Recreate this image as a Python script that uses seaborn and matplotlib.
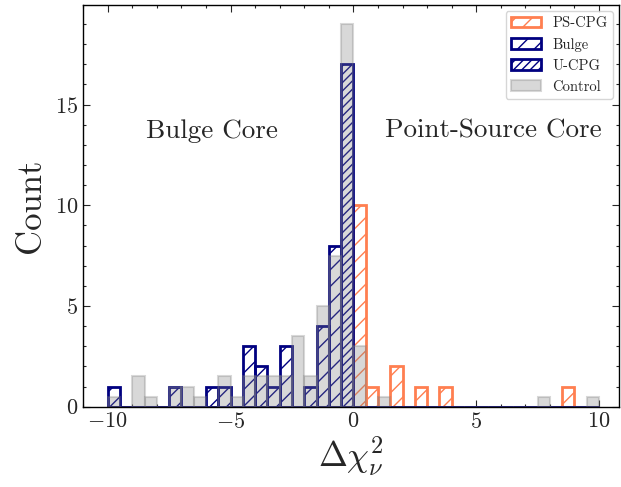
import numpy as np
import pandas as pd
import matplotlib
matplotlib.use("Agg")
import matplotlib.pyplot as plt
import seaborn as sns

# bin edges (width 0.5) and per-bin counts
bin_edges = list(np.arange(-10, 10.01, 0.5))

ps_x = [0.25, 0.75, 1.75, 2.75, 3.75, 8.75]
ps_n = [10, 1, 2, 1, 1, 1]

bulge_x = [-9.75, -7.25, -5.75, -5.25, -4.25, -3.75, -3.25, -2.75, -1.75, -1.25, -0.75]
bulge_n = [1, 1, 1, 1, 3, 2, 1, 3, 1, 4, 8]

ucpg_x = [-0.25]
ucpg_n = [17]

control_x = [-9.75, -8.75, -8.25, -7.25, -6.75, -6.25, -5.25, -4.75, -4.25, -3.75, -3.25,
             -2.75, -2.25, -1.75, -1.25, -0.75, -0.25, 0.25, 1.25, 7.75, 9.75]
control_n = [0.5, 1.5, 0.5, 1.0, 1.0, 0.5, 1.5, 0.5, 1.5, 1.5, 1.5,
             1.5, 3.5, 1.5, 5.0, 7.5, 19.0, 3.0, 0.5, 0.5, 0.5]

ps = pd.DataFrame({"x": ps_x, "n": ps_n})
bulge = pd.DataFrame({"x": bulge_x, "n": bulge_n})
ucpg = pd.DataFrame({"x": ucpg_x, "n": ucpg_n})
control = pd.DataFrame({"x": control_x, "n": control_n})

sns.set_style("ticks")
plt.rcParams["font.family"] = ["cmr10", "DejaVu Serif"]
plt.rcParams["mathtext.fontset"] = "cm"
plt.rcParams["axes.formatter.use_mathtext"] = True
plt.rcParams["axes.unicode_minus"] = True
plt.rcParams["xtick.direction"] = "in"
plt.rcParams["ytick.direction"] = "in"
plt.rcParams["xtick.top"] = True
plt.rcParams["ytick.right"] = True
plt.rcParams["axes.edgecolor"] = "black"
plt.rcParams["axes.linewidth"] = 1.0
plt.rcParams["hatch.linewidth"] = 1.0

fig = plt.figure(figsize=(6.21, 4.87), dpi=100)
ax = fig.add_axes([0.134, 0.165, 0.863, 0.825])

# PS-CPG
with plt.rc_context({"hatch.color": "coral"}):
    sns.histplot(data=ps, x="x", weights="n", bins=bin_edges, element="bars", fill=True,
                 facecolor="none", edgecolor="coral", hatch="//", linewidth=2,
                 label="PS-CPG", ax=ax)
# Bulge
with plt.rc_context({"hatch.color": "navy"}):
    sns.histplot(data=bulge, x="x", weights="n", bins=bin_edges, element="bars", fill=True,
                 facecolor="none", edgecolor="navy", hatch="//", linewidth=2,
                 label="Bulge", ax=ax)
    # U-CPG
    sns.histplot(data=ucpg, x="x", weights="n", bins=bin_edges, element="bars", fill=True,
                 facecolor="none", edgecolor="navy", hatch="////", linewidth=2,
                 label="U-CPG", ax=ax)
# control sample
sns.histplot(data=control, x="x", weights="n", bins=bin_edges, element="bars", fill=True,
             color="gray", alpha=0.3, edgecolor=(0.5, 0.5, 0.5, 0.3), linewidth=1.5,
             label="Control", ax=ax)

ax.set_xlim(-11, 10.82)
ax.set_ylim(0, 19.95)
ax.xaxis.set_major_locator(matplotlib.ticker.MultipleLocator(5))
ax.xaxis.set_minor_locator(matplotlib.ticker.MultipleLocator(1))
ax.yaxis.set_major_locator(matplotlib.ticker.MultipleLocator(5))
ax.yaxis.set_minor_locator(matplotlib.ticker.MultipleLocator(1))
ax.tick_params(which="major", length=5, width=0.8, labelsize=16)
ax.tick_params(which="minor", length=2.5, width=0.8)

ax.set_xlabel(r"$\Delta\chi^2_\nu$", fontsize=25, labelpad=2)
ax.set_ylabel("Count", fontsize=25, labelpad=6)

ax.text(-5.75, 13.7, "Bulge Core", fontsize=19.5, ha="center", va="center")
ax.text(5.68, 13.7, "Point-Source Core", fontsize=19.5, ha="center", va="center")

ax.legend(loc="upper right", fontsize=10.5, borderaxespad=0.4, fancybox=True)

fig.savefig("out.png", dpi=100)
